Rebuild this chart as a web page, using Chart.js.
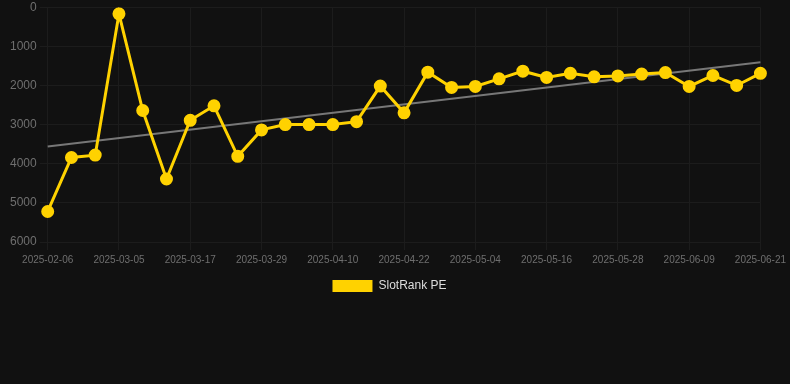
<!DOCTYPE html>
<html>
<head>
<meta charset="utf-8">
<script src="https://cdn.jsdelivr.net/npm/chart.js@4"></script>
<style>
  html, body { margin: 0; padding: 0; background: #111111; overflow: hidden; }
  #wrap { width: 790px; height: 305px; position: relative; margin-top: -3px; }
</style>
</head>
<body>
<div id="wrap"><canvas id="c"></canvas></div>
<script>
const dates = [
  "2025-02-06","2025-02-15","2025-02-24","2025-03-05","2025-03-09","2025-03-13",
  "2025-03-17","2025-03-21","2025-03-25","2025-03-29","2025-04-02","2025-04-06",
  "2025-04-10","2025-04-14","2025-04-18","2025-04-22","2025-04-26","2025-04-30",
  "2025-05-04","2025-05-08","2025-05-12","2025-05-16","2025-05-20","2025-05-24",
  "2025-05-28","2025-06-01","2025-06-05","2025-06-09","2025-06-13","2025-06-17",
  "2025-06-21"
];
const rankValues = [
  5220, 3840, 3780, 170, 2640, 4390,
  2890, 2520, 3810, 3135, 3000, 3000,
  3000, 2925, 2015, 2700, 1660, 2050,
  2025, 1830, 1635, 1795, 1690, 1780,
  1755, 1710, 1670, 2025, 1745, 2000,
  1690
];
const trendEnds = [3557, 1407];
const yTicks = [0, 1000, 2000, 3000, 4000, 5000, 6000];

const trendData = dates.map((d, i) =>
  i === 0 ? trendEnds[0] : (i === dates.length - 1 ? trendEnds[1] : null));

new Chart(document.getElementById('c'), {
  type: 'line',
  data: {
    labels: dates,
    datasets: [
      {
        label: 'SlotRank PE',
        data: rankValues,
        borderColor: '#FFD200',
        backgroundColor: '#FFD200',
        borderWidth: 3,
        pointRadius: 5,
        pointHoverRadius: 5,
        pointBackgroundColor: '#FFD200',
        pointBorderColor: '#FFD200',
        tension: 0,
        order: 1
      },
      {
        label: 'Trend',
        data: trendData,
        spanGaps: true,
        borderColor: '#777777',
        borderWidth: 2,
        pointRadius: 0,
        fill: false,
        order: 2
      }
    ]
  },
  options: {
    responsive: true,
    maintainAspectRatio: false,
    animation: false,
    layout: { padding: { left: 7, right: 18 } },
    plugins: {
      legend: {
        position: 'bottom',
        labels: {
          color: '#dddddd',
          font: { family: 'Liberation Sans, Arial, sans-serif', size: 12 },
          boxWidth: 40,
          boxHeight: 12,
          generateLabels: (chart) => {
            const items = Chart.defaults.plugins.legend.labels.generateLabels(chart);
            return items.filter(it => it.text !== 'Trend').map(it => Object.assign(it, { lineWidth: 0 }));
          }
        }
      },
      tooltip: { enabled: false }
    },
    scales: {
      x: {
        offset: false,
        grid: { color: '#1c1c1c', drawTicks: true, tickLength: 8 },
        border: { color: '#1c1c1c' },
        ticks: {
          color: '#6f6f6f',
          font: { family: 'Liberation Sans, Arial, sans-serif', size: 10 },
          maxRotation: 0,
          autoSkip: false,
          padding: 4,
          callback: function(v, i) { return i % 3 === 0 ? dates[i] : null; }
        }
      },
      y: {
        reverse: true,
        min: 0,
        max: 6000,
        afterBuildTicks: (axis) => { axis.ticks = yTicks.map(v => ({ value: v })); },
        grid: { color: '#1c1c1c', tickLength: 8 },
        border: { color: '#1c1c1c' },
        ticks: {
          color: '#6f6f6f',
          font: { family: 'Liberation Sans, Arial, sans-serif', size: 12 },
          padding: 3,
          callback: (v) => String(v)
        }
      }
    }
  }
});
</script>
</body>
</html>
